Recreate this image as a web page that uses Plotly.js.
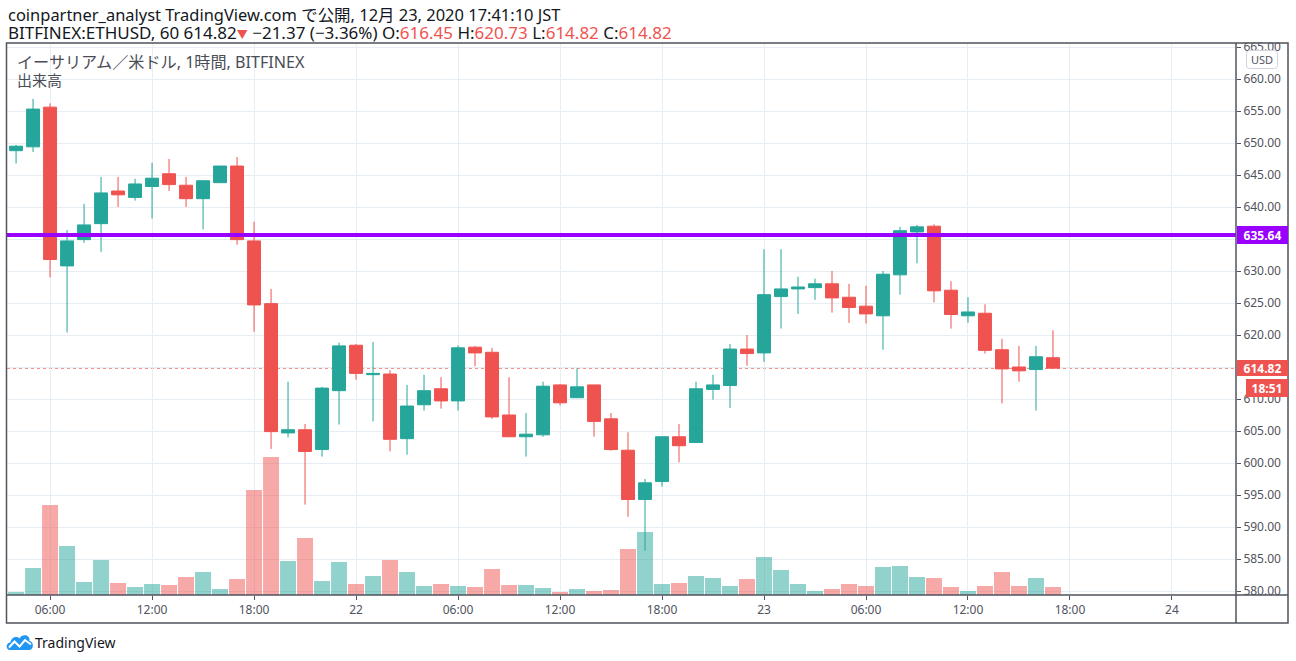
<!DOCTYPE html>
<html>
<head>
<meta charset="utf-8">
<script src="https://cdn.plot.ly/plotly-3.0.1.min.js"></script>
<style>
html,body{margin:0;padding:0;background:#ffffff;}
#chart{width:1296px;height:661px;}
</style>
</head>
<body>
<div id="chart"></div>
<script>
// ---- Data ----
const times = [
 '2020-12-21 04:00','2020-12-21 05:00','2020-12-21 06:00','2020-12-21 07:00','2020-12-21 08:00',
 '2020-12-21 09:00','2020-12-21 10:00','2020-12-21 11:00','2020-12-21 12:00','2020-12-21 13:00',
 '2020-12-21 14:00','2020-12-21 15:00','2020-12-21 16:00','2020-12-21 17:00','2020-12-21 18:00',
 '2020-12-21 19:00','2020-12-21 20:00','2020-12-21 21:00','2020-12-21 22:00','2020-12-21 23:00',
 '2020-12-22 00:00','2020-12-22 01:00','2020-12-22 02:00','2020-12-22 03:00','2020-12-22 04:00',
 '2020-12-22 05:00','2020-12-22 06:00','2020-12-22 07:00','2020-12-22 08:00','2020-12-22 09:00',
 '2020-12-22 10:00','2020-12-22 11:00','2020-12-22 12:00','2020-12-22 13:00','2020-12-22 14:00',
 '2020-12-22 15:00','2020-12-22 16:00','2020-12-22 17:00','2020-12-22 18:00','2020-12-22 19:00',
 '2020-12-22 20:00','2020-12-22 21:00','2020-12-22 22:00','2020-12-22 23:00','2020-12-23 00:00',
 '2020-12-23 01:00','2020-12-23 02:00','2020-12-23 03:00','2020-12-23 04:00','2020-12-23 05:00',
 '2020-12-23 06:00','2020-12-23 07:00','2020-12-23 08:00','2020-12-23 09:00','2020-12-23 10:00',
 '2020-12-23 11:00','2020-12-23 12:00','2020-12-23 13:00','2020-12-23 14:00','2020-12-23 15:00',
 '2020-12-23 16:00','2020-12-23 17:00'
];
const openP = [
 648.8,649.4,655.6,630.8,634.9,637.4,642.5,641.5,643.2,645.2,
 643.4,641.3,643.8,646.4,634.7,624.9,604.7,605.2,602.1,611.3,
 618.4,613.8,613.9,603.8,609.1,611.6,609.7,618.1,617.3,607.5,
 604.1,604.4,612.2,610.2,612.2,606.9,602.0,594.3,597.1,604.1,
 603.2,611.5,612.1,617.8,617.2,626.0,627.2,627.4,628.0,625.9,
 624.5,623.0,629.4,636.1,637.0,627.0,623.0,623.4,617.7,615.0,
 614.6,616.45
];
const highP = [
 649.7,656.9,656.2,636.4,640.5,644.7,644.7,644.4,646.9,647.5,
 644.7,644.1,646.4,647.8,637.7,627.2,612.7,606.1,611.9,618.8,
 618.6,618.9,614.5,612.2,613.8,613.4,618.4,618.3,618.0,613.4,
 607.8,612.7,612.3,614.8,612.2,607.8,604.8,597.5,604.1,606.1,
 612.7,613.8,618.6,620.0,633.4,633.4,629.1,628.8,630.0,628.0,
 627.7,630.0,636.9,637.2,637.3,628.4,625.9,624.8,619.4,618.3,
 618.3,620.73
];
const lowP = [
 646.8,648.6,629.0,620.4,634.4,633.0,640.0,641.0,638.2,642.5,
 640.0,636.5,643.8,634.1,620.5,602.2,604.0,593.5,601.0,606.0,
 613.0,606.5,601.8,601.3,608.2,608.5,608.2,615.1,606.9,604.1,
 601.0,604.1,609.0,610.2,604.1,601.9,591.6,586.3,596.3,600.1,
 603.2,609.9,608.6,615.2,615.8,621.0,623.3,625.5,623.5,621.9,
 621.8,617.7,626.3,631.2,625.1,621.0,621.9,617.1,609.3,612.7,
 608.2,614.82
];
const closeP = [
 649.5,655.3,631.8,634.7,637.2,642.2,641.9,643.6,644.5,643.5,
 641.3,644.1,646.4,634.9,624.7,604.9,605.2,601.8,611.7,618.3,
 614.0,614.0,603.7,608.9,611.3,609.7,618.0,617.2,607.2,604.1,
 604.5,612.0,609.4,611.9,606.5,602.1,594.3,596.9,604.1,602.7,
 611.6,612.2,617.8,617.1,626.3,627.2,627.5,628.0,625.8,624.3,
 623.3,629.5,636.3,636.9,626.9,623.2,623.6,617.6,614.7,614.4,
 616.6,614.82
];
const volume = [
 30,270,900,490,130,350,120,80,110,100,
 180,230,60,160,1050,1380,340,570,140,330,
 110,190,350,230,90,110,90,80,260,100,
 100,70,30,60,40,50,460,630,110,120,
 190,170,90,160,380,250,110,40,60,110,
 90,280,290,180,170,80,40,90,230,90,
 170,80
];
const tickDates = [
 '2020-12-21 06:00','2020-12-21 12:00','2020-12-21 18:00','2020-12-22 00:00',
 '2020-12-22 06:00','2020-12-22 12:00','2020-12-22 18:00','2020-12-23 00:00',
 '2020-12-23 06:00','2020-12-23 12:00','2020-12-23 18:00','2020-12-24 00:00'
];
const tickLabels = ['06:00','12:00','18:00','22','06:00','12:00','18:00','23','06:00','12:00','18:00','24'];
const priceTicks = [580,585,590,595,600,605,610,615,620,625,630,635,640,645,650,655,660,665];
const resistance = 635.64;
const lastPrice = 614.82;
const countdown = '18:51';

// ---- Styling ----
const UP = '#26a69a', DOWN = '#ef5350';
const UP_VOL = 'rgba(38,166,154,0.5)', DOWN_VOL = 'rgba(239,83,80,0.5)';
const GRID = '#e6edf3', AXIS = '#50535e', TXT = '#131722';
const FONT = '"Noto Sans CJK JP", "Noto Sans", sans-serif';
const HFONT = '"Noto Sans", "Noto Sans CJK JP", sans-serif';

const volColors = closeP.map((c, i) => c >= openP[i] ? UP_VOL : DOWN_VOL);
// price labels hidden behind the price boxes (as in the reference)
const priceTickText = priceTicks.map(v =>
  (Math.abs(v - resistance) < 2 || Math.abs(v - lastPrice) < 1) ? '' : v.toFixed(2));

// text fitting via canvas measurement
const cv = document.createElement('canvas').getContext('2d');
function fit(text, family, target, lo, hi) {
  cv.font = '100px ' + family;
  const w = cv.measureText(text).width;
  let s = 100 * target / w;
  return Math.max(lo, Math.min(hi, s));
}

// pixel -> paper helpers (plot area: x 7..1236, y 43..595)
const L = 7, R = 1236, T = 43, B = 595;
const px = v => (v - L) / (R - L);
const py = v => (B - v) / (B - T);
const P = (x, y) => px(x) + ',' + py(y);

const volTrace = {
  type: 'bar', x: times, y: volume, xaxis: 'x', yaxis: 'y',
  marker: {color: volColors, line: {width: 0}},
  hoverinfo: 'skip'
};
const candleTrace = {
  type: 'candlestick', x: times, open: openP, high: highP, low: lowP, close: closeP,
  xaxis: 'x', yaxis: 'y2',
  increasing: {line: {color: UP, width: 1}, fillcolor: UP},
  decreasing: {line: {color: DOWN, width: 1}, fillcolor: DOWN},
  whiskerwidth: 0, hoverinfo: 'skip'
};

function roundRect(x0, y0, x1, y1, r) {
  const rx = r / (R - L), ry = r / (B - T);
  const X0 = px(x0), X1 = px(x1), Y0 = py(y0), Y1 = py(y1);
  return `M ${X0+rx},${Y0} L ${X1-rx},${Y0} Q ${X1},${Y0} ${X1},${Y0-ry} L ${X1},${Y1+ry} Q ${X1},${Y1} ${X1-rx},${Y1} L ${X0+rx},${Y1} Q ${X0},${Y1} ${X0},${Y1+ry} L ${X0},${Y0-ry} Q ${X0},${Y0} ${X0+rx},${Y0} Z`;
}

const red = s => `<span style="color:${DOWN}">${s}</span>`;

const h1 = 'coinpartner_analyst TradingView.com で公開, 12月 23, 2020 17:41:10 JST';
const h2plain = 'BITFINEX:ETHUSD, 60 614.82▼ −21.37 (−3.36%) O:616.45 H:620.73 L:614.82 C:614.82';
const h2 = 'BITFINEX:ETHUSD, 60 614.82' + `<span style="color:${DOWN};font-size:11px">▼</span>` +
           ' −21.37 (−3.36%) O:' + red('616.45') +
           ' H:' + red('620.73') + ' L:' + red('614.82') + ' C:' + red('614.82');
const lg1 = 'イーサリアム／米ドル, 1時間, BITFINEX';
const s1 = fit(h1, HFONT, 553, 13, 17);
const s2 = fit(h2plain, HFONT, 683, 13, 17);
const s3 = fit(lg1, HFONT, 289, 13, 16.5);

const layout = {
  width: 1296, height: 661,
  margin: {l: L, r: 1296 - R, t: T, b: 661 - B, pad: 0},
  paper_bgcolor: '#ffffff', plot_bgcolor: '#ffffff',
  showlegend: false, hovermode: false, dragmode: false,
  boxgap: 0.24, boxgroupgap: 0, bargap: 0.06,
  font: {family: FONT, color: TXT},
  xaxis: {
    type: 'date', range: ['2020-12-21 03:28', '2020-12-24 03:46'],
    tickmode: 'array', tickvals: tickDates, ticktext: tickLabels,
    showgrid: true, gridcolor: GRID, gridwidth: 1,
    ticks: 'outside', ticklen: 4, tickcolor: AXIS, tickwidth: 1,
    showline: false, zeroline: false,
    tickfont: {size: 12, color: AXIS, family: HFONT},
    rangeslider: {visible: false}, fixedrange: true
  },
  yaxis: {
    range: [0, 5520], showgrid: false, zeroline: false, showticklabels: false,
    ticks: '', showline: false, fixedrange: true
  },
  yaxis2: {
    overlaying: 'y', side: 'right', range: [579.375, 665.625],
    tickmode: 'array', tickvals: priceTicks, ticktext: priceTickText,
    showgrid: true, gridcolor: GRID, gridwidth: 1, zeroline: false,
    ticks: 'outside', ticklen: 4, tickcolor: AXIS, tickwidth: 1,
    tickfont: {size: 12, color: AXIS, family: HFONT},
    showline: false, fixedrange: true
  },
  shapes: [
    {type: 'line', xref: 'paper', yref: 'y2', x0: 0, x1: 1, y0: lastPrice, y1: lastPrice,
     line: {color: DOWN, width: 1, dash: 'dot'}, layer: 'below'},
    {type: 'line', xref: 'paper', yref: 'y2', x0: 0, x1: 1, y0: resistance, y1: resistance,
     line: {color: '#9900ff', width: 4}, layer: 'above'},
    // cover clipped label parts outside the frame
    {type: 'rect', xref: 'paper', yref: 'paper', x0: px(1236.5), x1: px(1300), y0: py(20), y1: py(42.5),
     fillcolor: '#ffffff', line: {width: 0}, layer: 'above'},
    {type: 'rect', xref: 'paper', yref: 'paper', x0: px(1236.5), x1: px(1300), y0: py(595.5), y1: py(630),
     fillcolor: '#ffffff', line: {width: 0}, layer: 'above'},
    // frame
    {type: 'rect', xref: 'paper', yref: 'paper', x0: px(6.5), x1: px(1288), y0: py(43), y1: py(623),
     line: {color: AXIS, width: 1.5}, fillcolor: 'rgba(0,0,0,0)', layer: 'above'},
    {type: 'line', xref: 'paper', yref: 'paper', x0: px(1236), x1: px(1236), y0: py(43), y1: py(623),
     line: {color: AXIS, width: 1.5}, layer: 'above'},
    {type: 'line', xref: 'paper', yref: 'paper', x0: px(6.5), x1: px(1288), y0: py(595), y1: py(595),
     line: {color: AXIS, width: 1.5}, layer: 'above'},
    // USD box
    {type: 'path', xref: 'paper', yref: 'paper', path: roundRect(1246.5, 50.5, 1277.5, 68.5, 3),
     line: {color: '#d1d4dc', width: 1}, fillcolor: '#ffffff', layer: 'above'},
    // TradingView logo (cloud)
    {type: 'path', xref: 'paper', yref: 'paper',
     path: `M ${P(10,650)} C ${P(5.5,650)} ${P(5.5,642.5)} ${P(10.5,642.5)} C ${P(11,637.5)} ${P(16.5,635.5)} ${P(19.5,638.5)} C ${P(21.5,633.5)} ${P(30.5,634)} ${P(29.5,641)} C ${P(34,641)} ${P(34,650)} ${P(29.5,650)} Z`,
     fillcolor: '#2196f3', line: {width: 0}, layer: 'above'},
    {type: 'path', xref: 'paper', yref: 'paper',
     path: `M ${P(9,647.5)} L ${P(14.5,641.5)} L ${P(19.5,646.5)} L ${P(25,640)} L ${P(31,644.5)}`,
     line: {color: '#ffffff', width: 2}, layer: 'above'}
  ],
  annotations: [
    {xref: 'paper', yref: 'paper', x: px(6), y: py(14), xanchor: 'left', yanchor: 'middle', showarrow: false,
     text: h1, font: {size: s1, color: TXT, family: HFONT}},
    {xref: 'paper', yref: 'paper', x: px(6), y: py(32), xanchor: 'left', yanchor: 'middle', showarrow: false,
     text: h2, font: {size: s2, color: TXT, family: HFONT}},
    {xref: 'paper', yref: 'paper', x: px(15), y: py(62), xanchor: 'left', yanchor: 'middle', showarrow: false,
     text: lg1, font: {size: s3, color: '#4a4d56', family: HFONT}},
    {xref: 'paper', yref: 'paper', x: px(15), y: py(80), xanchor: 'left', yanchor: 'middle', showarrow: false,
     text: '出来高', font: {size: 15, color: '#4a4d56', family: FONT}},
    {xref: 'paper', yref: 'paper', x: px(1262), y: py(59.5), xanchor: 'center', yanchor: 'middle', showarrow: false,
     text: 'USD', font: {size: 11, color: AXIS, family: HFONT}},
    {xref: 'paper', yref: 'y2', x: px(1236.5), y: resistance, xanchor: 'left', yanchor: 'middle', showarrow: false,
     text: '<b>' + resistance.toFixed(2) + '</b>', bgcolor: '#9900ff', borderpad: 0, borderwidth: 0,
     width: 51, height: 18, align: 'center', font: {size: 12, color: '#ffffff', family: HFONT}},
    {xref: 'paper', yref: 'y2', x: px(1236.5), y: lastPrice, xanchor: 'left', yanchor: 'middle', showarrow: false,
     text: '<b>' + lastPrice.toFixed(2) + '</b>', bgcolor: DOWN, borderpad: 0, borderwidth: 0,
     width: 51, height: 16, align: 'center', font: {size: 12, color: '#ffffff', family: HFONT}},
    {xref: 'paper', yref: 'paper', x: px(1246), y: py(388), xanchor: 'left', yanchor: 'middle', showarrow: false,
     text: '<b>' + countdown + '</b>', bgcolor: DOWN, borderpad: 0, borderwidth: 0,
     width: 42, height: 18, align: 'center', font: {size: 12, color: '#ffffff', family: HFONT}},
    {xref: 'paper', yref: 'paper', x: px(33), y: py(642), xanchor: 'left', yanchor: 'middle', showarrow: false,
     text: 'TradingView', font: {size: 14, color: TXT, family: HFONT}}
  ]
};

Plotly.newPlot('chart', [volTrace, candleTrace], layout, {staticPlot: true, displayModeBar: false});
</script>
</body>
</html>
